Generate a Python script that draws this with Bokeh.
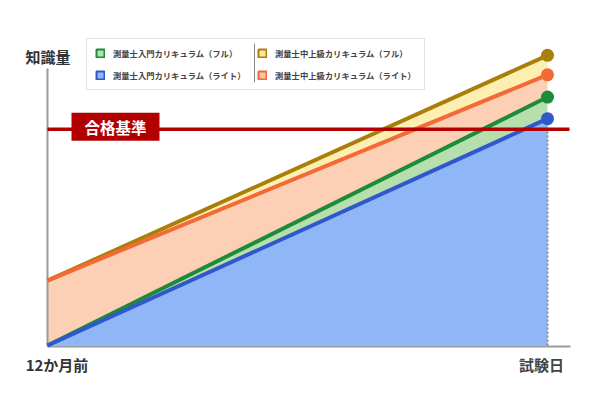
from bokeh.plotting import figure
from bokeh.models import Range1d, Legend, LegendItem, Label
from bokeh.core.properties import value
from bokeh.embed import file_html
from bokeh.resources import INLINE

# ---------------- data ----------------
x_labels = ["12か月前", "試験日"]
months = [0, 12]
series_names = [
    "測量士入門カリキュラム（フル）",
    "測量士入門カリキュラム（ライト）",
    "測量士中上級カリキュラム（フル）",
    "測量士中上級カリキュラム（ライト）",
]
intro_full = [0, 80.4]
intro_light = [0, 73.4]
adv_full = [21.0, 93.9]
adv_light = [21.0, 87.6]
passing_level = 70
y_title = "知識量"
passing_label = "合格基準"

# ---------------- styles ----------------
FONT = "Noto Sans CJK JP"
LINE_COLORS = {"intro_full": "#1e8a3c", "intro_light": "#3157cc",
               "adv_full": "#a97f0a", "adv_light": "#f26a36"}
FILL_COLORS = {"intro_full": "#b6dfae", "intro_light": "#8fb6f7",
               "adv_full": "#fdefb2", "adv_light": "#fdd0b6"}
SWATCH_FILLS = {"intro_full": "#b6dfae", "intro_light": "#8fb6f7",
                "adv_full": "#fde99b", "adv_light": "#fcc2a6"}
RED = "#b20000"
AXIS = "#9a9a9a"
TEXT = "#333333"

# pixel helpers (screenshot coords -> data coords); canvas starts at (0, 0)
ORIGIN = 0
PX_PER_MONTH = 500 / 12
PX_PER_UNIT = 3.09
X0_PX, Y0_PX = 47, 345


def px2x(px):
    return (px - X0_PX) / PX_PER_MONTH


def px2y(py):
    return (Y0_PX - py) / PX_PER_UNIT


W, H = 592, 392
p = figure(width=W, height=H, output_backend="svg", toolbar_location=None,
           x_range=Range1d(px2x(ORIGIN), px2x(ORIGIN + W)),
           y_range=Range1d(px2y(ORIGIN + H), px2y(ORIGIN)),
           min_border=0, x_axis_location=None, y_axis_location=None,
           outline_line_color=None, background_fill_color="white")
p.grid.visible = False

# fills
p.varea(x=months, y1=adv_light, y2=adv_full, fill_color=FILL_COLORS["adv_full"])
p.varea(x=months, y1=intro_full, y2=adv_light, fill_color=FILL_COLORS["adv_light"])
p.varea(x=months, y1=intro_light, y2=intro_full, fill_color=FILL_COLORS["intro_full"])
p.varea(x=months, y1=0, y2=intro_light, fill_color=FILL_COLORS["intro_light"])

# axes (drawn as lines)
axis_y = px2y(346)
p.segment(x0=months[0], y0=axis_y, x1=px2x(570), y1=axis_y, line_color=AXIS, line_width=2)
p.segment(x0=months[0], y0=axis_y, x1=months[0], y1=px2y(68), line_color=AXIS, line_width=2)

# dotted drop line at exam day
p.segment(x0=months[-1], y0=0, x1=months[-1], y1=intro_light[-1],
          line_color="#8a8a8a", line_width=2, line_dash="2 2")

# series lines
series = [("adv_full", adv_full), ("adv_light", adv_light),
          ("intro_full", intro_full), ("intro_light", intro_light)]
for key, vals in series:
    p.line(months, vals, line_width=4, line_color=LINE_COLORS[key])

# passing line
p.segment(x0=months[0], y0=passing_level, x1=px2x(569), y1=passing_level,
          line_color=RED, line_width=3.5)

# end dots
p.scatter(x=[months[-1]] * 4, y=[v[-1] for _, v in series], size=13,
          fill_color=[LINE_COLORS[k] for k, _ in series], line_color=None)

# passing label
p.add_layout(Label(x=px2x(115), y=passing_level + 2.5 / PX_PER_UNIT, text=passing_label,
                   text_align="center", text_baseline="middle",
                   text_color="white", text_font=FONT, text_font_size="15.5px",
                   text_font_style="bold", background_fill_color=RED,
                   padding=dict(left=13, right=13, top=3, bottom=3)))

# texts
p.text(x=[px2x(47.5)], y=[px2y(56)], text=[y_title], text_align="center",
       text_baseline="middle", text_font=value(FONT), text_font_size="15px",
       text_font_style="bold", text_color=TEXT)
p.text(x=[months[0]], y=[px2y(363.5)], text=[x_labels[0]], x_offset=9.5,
       text_align="center", text_baseline="middle", text_font=value(FONT),
       text_font_size="15px", text_font_style="bold", text_color=TEXT)
p.text(x=[months[1]], y=[px2y(363.5)], text=[x_labels[1]], x_offset=-6,
       text_align="center", text_baseline="middle", text_font=value(FONT),
       text_font_size="15px", text_font_style="bold", text_color="#444444")

# legend (swatch renderers hold a single invisible NaN point)
keys = ["intro_full", "intro_light", "adv_full", "adv_light"]
nan = float("nan")
items = []
for key, name in zip(keys, series_names):
    r = p.rect(x=[nan], y=[nan], width=1, height=1, fill_color=SWATCH_FILLS[key],
               line_color=LINE_COLORS[key], line_width=2)
    items.append(LegendItem(label=name, renderers=[r]))

legend = Legend(items=items, ncols=2, location=(86 - ORIGIN, ORIGIN + H - 90),
                glyph_width=10, glyph_height=10, label_standoff=8,
                label_text_font=FONT, label_text_font_size="8.3px",
                label_text_font_style="bold", label_text_color="#444444",
                label_height=12, label_width=134, spacing=10, padding=8, margin=0,
                border_line_color="#c4c4c4", border_line_width=1,
                background_fill_alpha=0)
p.add_layout(legend)

# legend column separator
sep = p.segment(x0=px2x(254), y0=px2y(43), x1=px2x(254), y1=px2y(82),
                line_color="#888888", line_width=1)
sep.level = "overlay"

open("out.html", "w").write(file_html(p, INLINE))
